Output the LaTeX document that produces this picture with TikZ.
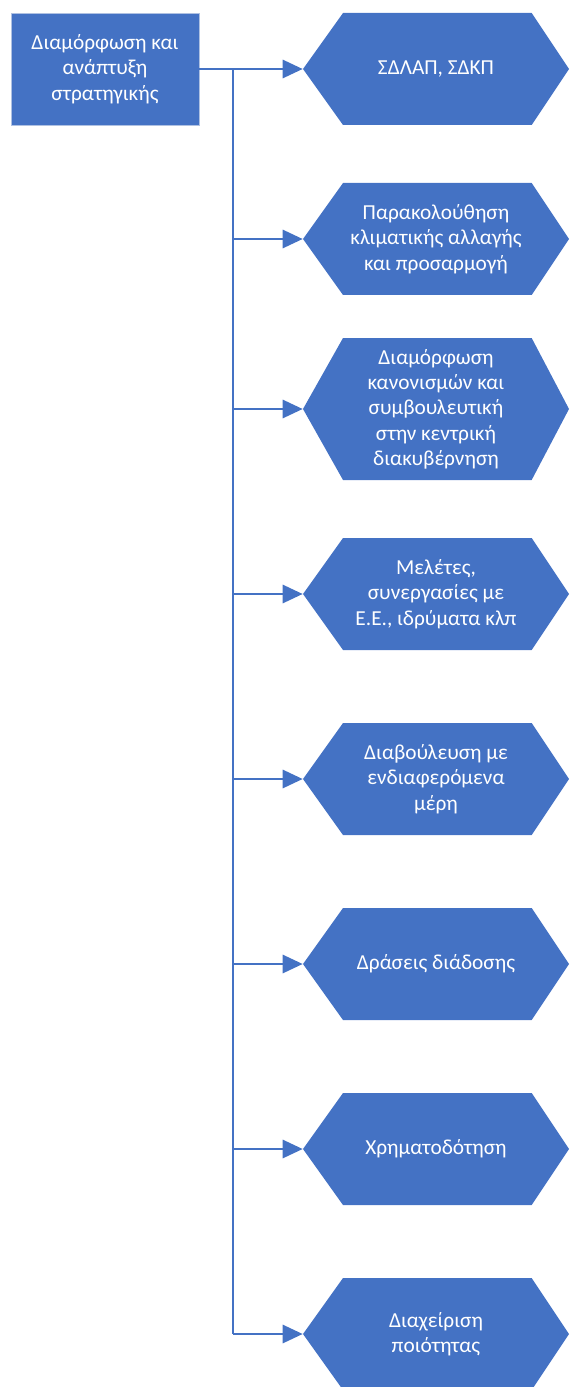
\documentclass[tikz,border=0pt]{standalone}
\usepackage{fontspec}
\setmainfont{Carlito}
\usepackage{tikz}
\usetikzlibrary{arrows.meta}

\definecolor{officeblue}{RGB}{68,114,196}
\definecolor{paleedge}{RGB}{175,193,226}

\begin{document}
\begin{tikzpicture}[x=0.75pt,y=-0.75pt,
  font=\fontsize{16}{19}\selectfont,
  rootbox/.style={rectangle, fill=officeblue, draw=paleedge, line width=0.6pt,
    minimum width=141pt, minimum height=84pt, text=white, align=center},
  hexbox/.style={rectangle, minimum width=199.5pt, minimum height=84pt,
    text=white, align=center,
    path picture={\fill[officeblue] (path picture bounding box.west)
      -- ([xshift=30pt]path picture bounding box.north west)
      -- ([xshift=-28pt]path picture bounding box.north east)
      -- (path picture bounding box.east)
      -- ([xshift=-28pt]path picture bounding box.south east)
      -- ([xshift=30pt]path picture bounding box.south west) -- cycle;}},
  link/.style={draw=officeblue, line width=2.1pt},
  feed/.style={link, -{Triangle[length=15pt,width=13.5pt]}}]
\useasboundingbox (0,0) rectangle (569,1387);

%Root box
\node[rootbox] (root) at (105,69) {Διαμόρφωση και\\ανάπτυξη\\στρατηγικής};

%Hexagons
\node[hexbox] (h1) at (436,69) {ΣΔΛΑΠ, ΣΔΚΠ};
\node[hexbox] (h2) at (436,239) {Παρακολούθηση\\κλιματικής αλλαγής\\και προσαρμογή};
\node[hexbox, minimum height=106.5pt] (h3) at (436,409) {Διαμόρφωση\\κανονισμών και\\συμβουλευτική\\στην κεντρική\\διακυβέρνηση};
\node[hexbox] (h4) at (436,594) {Μελέτες,\\συνεργασίες με\\Ε.Ε., ιδρύματα κλπ};
\node[hexbox] (h5) at (436,779) {Διαβούλευση με\\ενδιαφερόμενα\\μέρη};
\node[hexbox] (h6) at (436,964) {Δράσεις διάδοσης};
\node[hexbox] (h7) at (436,1149) {Χρηματοδότηση};
\node[hexbox] (h8) at (436,1334) {Διαχείριση\\ποιότητας};

%Connectors
\coordinate (trunk) at (233,69);
\draw[feed] (root.east) -- (h1.west);
\draw[link] (trunk) -- (trunk |- h8.west);
\foreach \k in {2,...,8}
  \draw[feed] (trunk |- h\k.west) -- (h\k.west);

\end{tikzpicture}
\end{document}
